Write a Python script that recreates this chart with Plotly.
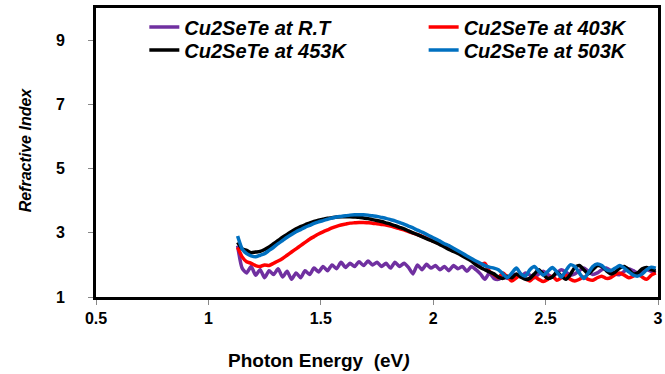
import plotly.graph_objects as go

energy = [1.13, 1.15, 1.17, 1.19, 1.21, 1.23, 1.25, 1.27, 1.29, 1.31, 1.33, 1.35, 1.37, 1.39, 1.41, 1.43,
          1.45, 1.47, 1.49, 1.51, 1.53, 1.55, 1.57, 1.59, 1.61, 1.63, 1.65, 1.67, 1.69, 1.71, 1.73, 1.75,
          1.77, 1.79, 1.81, 1.83, 1.85, 1.87, 1.89, 1.91, 1.93, 1.95, 1.97, 1.99, 2.01, 2.03, 2.05, 2.07,
          2.09, 2.11, 2.13, 2.15, 2.17, 2.19, 2.21, 2.23, 2.25, 2.27, 2.29, 2.31, 2.33, 2.35, 2.37, 2.39,
          2.41, 2.43, 2.45, 2.47, 2.49, 2.51, 2.53, 2.55, 2.57, 2.59, 2.61, 2.63, 2.65, 2.67, 2.69, 2.71,
          2.73, 2.75, 2.77, 2.79, 2.81, 2.83, 2.85, 2.87, 2.89, 2.91, 2.93, 2.95, 2.97, 2.99]

n_rt = [2.6, 1.9, 1.75, 1.95, 1.68, 1.85, 1.6, 1.82, 1.7, 1.88, 1.62, 1.8, 1.55, 1.75, 1.6, 1.82,
        1.7, 1.9, 1.78, 1.95, 1.82, 2.0, 1.88, 2.08, 1.92, 2.05, 1.95, 2.1, 1.98, 2.12, 2.0, 2.08,
        1.95, 2.05, 1.9, 2.08, 1.95, 2.05, 1.92, 1.72, 2.0, 1.85, 2.02, 1.9, 1.98, 1.85, 1.95, 1.82,
        1.98, 1.88, 1.95, 1.8, 1.95, 1.85, 1.72, 1.55, 1.75, 1.58, 1.55, 1.62, 1.58, 1.68, 1.7, 1.62,
        1.75, 1.68, 1.6, 1.72, 1.8, 1.7, 1.62, 1.75, 1.85, 1.78, 1.68, 1.72, 1.82, 1.9, 1.8, 1.7,
        1.75, 1.85, 1.9, 1.82, 1.72, 1.7, 1.8, 1.88, 1.82, 1.75, 1.78, 1.85, 1.8, 1.75]

n_403 = [2.55, 2.25, 2.1, 2.05, 1.98, 1.95, 2.0, 1.98, 2.05, 2.12, 2.2, 2.3, 2.4, 2.5, 2.6, 2.7,
         2.8, 2.88, 2.96, 3.03, 3.09, 3.15, 3.2, 3.24, 3.27, 3.3, 3.31, 3.32, 3.32, 3.31, 3.3, 3.28,
         3.26, 3.24, 3.21, 3.17, 3.13, 3.09, 3.04, 2.99, 2.94, 2.89, 2.83, 2.77, 2.71, 2.65, 2.58, 2.52,
         2.45, 2.38, 2.31, 2.23, 2.15, 2.07, 2.0, 2.05, 1.8, 1.7, 1.6, 1.75, 1.62, 1.5, 1.6, 1.7,
         1.58, 1.5, 1.62, 1.55, 1.48, 1.55, 1.65, 1.52, 1.6, 1.68, 1.55, 1.5, 1.55, 1.62, 1.55, 1.52,
         1.6, 1.65, 1.58, 1.6, 1.7, 1.75, 1.68, 1.6, 1.65, 1.72, 1.62, 1.55, 1.68, 1.75]

n_453 = [2.7, 2.5, 2.45, 2.38, 2.4, 2.42, 2.48, 2.56, 2.66, 2.76, 2.86, 2.95, 3.04, 3.12, 3.19, 3.25,
         3.3, 3.35, 3.39, 3.42, 3.45, 3.47, 3.49, 3.5, 3.5, 3.5, 3.49, 3.48, 3.46, 3.44, 3.41, 3.38,
         3.35, 3.31, 3.27, 3.22, 3.17, 3.12, 3.06, 3.0, 2.94, 2.88, 2.82, 2.76, 2.7, 2.63, 2.56, 2.48,
         2.42, 2.36, 2.28, 2.2, 2.12, 2.0, 1.92, 1.85, 1.78, 1.72, 1.62, 1.58, 1.65, 1.6, 1.72, 1.62,
         1.55, 1.58, 1.72, 1.85, 1.7, 1.58, 1.62, 1.78, 1.65, 1.55, 1.7, 1.92, 1.98, 1.85, 1.72, 1.85,
         1.98, 1.95, 1.82, 1.72, 1.78, 1.9, 1.95, 1.85, 1.72, 1.75, 1.88, 1.92, 1.85, 1.82]

n_503 = [2.9, 2.5, 2.35, 2.28, 2.25, 2.3, 2.35, 2.45, 2.55, 2.66, 2.76, 2.86, 2.95, 3.03, 3.1, 3.17,
         3.23, 3.29, 3.34, 3.38, 3.42, 3.46, 3.49, 3.51, 3.53, 3.55, 3.56, 3.56, 3.56, 3.55, 3.53, 3.51,
         3.48, 3.45, 3.41, 3.37, 3.32, 3.27, 3.21, 3.15, 3.08, 3.02, 2.95, 2.88, 2.81, 2.74, 2.66, 2.6,
         2.52, 2.44, 2.36, 2.28, 2.2, 2.12, 2.05, 1.98, 1.93, 1.9, 1.85, 1.72, 1.6, 1.75, 1.9, 1.72,
         1.65, 1.85, 1.95, 1.8, 1.68, 1.8, 1.92, 1.78, 1.62, 1.82, 2.0, 1.95, 1.75, 1.58, 1.75, 1.95,
         2.03, 1.98, 1.85, 1.82, 1.9, 1.98, 1.9, 1.78, 1.68, 1.65, 1.72, 1.85, 1.93, 1.9]

series_names = ["Cu2SeTe at R.T", "Cu2SeTe at 403K", "Cu2SeTe at 453K", "Cu2SeTe at 503K"]
series_values = [n_rt, n_403, n_453, n_503]
series_colors = ["#7030A0", "#FF0000", "#000000", "#0070C0"]

y_ticks = [1, 3, 5, 7, 9]
x_ticks = [0.5, 1, 1.5, 2, 2.5, 3]

font_family = "Liberation Sans, Arial, sans-serif"

# one legend box per entry, arranged in a 2x2 grid like the original
legend_ids = ["legend", "legend2", "legend3", "legend4"]
legend_pos = [(0.086, 0.934), (0.583, 0.934), (0.086, 0.855), (0.583, 0.855)]

fig = go.Figure()
for name, vals, col, lid in zip(series_names, series_values, series_colors, legend_ids):
    fig.add_trace(go.Scatter(x=energy, y=vals, mode="lines", name=name, legend=lid,
                             line=dict(color=col, width=3.5, shape="spline", smoothing=0.6)))

legend_font = dict(size=20, family=font_family, style="italic", weight="bold", color="black")
legend_layout = {}
for lid, (lx, ly) in zip(legend_ids, legend_pos):
    legend_layout[lid] = dict(x=lx, y=ly, xanchor="left", yanchor="middle",
                              font=legend_font, bgcolor="rgba(0,0,0,0)", itemwidth=30)

fig.update_layout(
    width=665, height=374,
    margin=dict(l=96, r=2, t=8, b=77),
    paper_bgcolor="white", plot_bgcolor="white",
    font=dict(family=font_family, color="black"),
    showlegend=True,
    xaxis=dict(range=[0.5, 3.0], tickvals=x_ticks, showgrid=False, zeroline=False,
               showline=True, linecolor="black", linewidth=3, mirror=True,
               ticks="outside", ticklen=5, tickcolor="#888", tickwidth=1,
               tickfont=dict(size=16, weight="bold", family=font_family)),
    yaxis=dict(range=[1, 10], tickvals=y_ticks, showgrid=False, zeroline=False,
               showline=True, linecolor="black", linewidth=3, mirror=True,
               ticks="outside", ticklen=5, tickcolor="#888", tickwidth=1,
               ticklabelstandoff=20,
               tickfont=dict(size=16, weight="bold", family=font_family)),
    annotations=[
        dict(text="Photon Energy  (eV<i>)</i>", xref="paper", yref="paper", x=0.396, y=-0.221,
             xanchor="center", yanchor="middle", showarrow=False,
             font=dict(size=19, weight="bold", family=font_family)),
        dict(text="<i>Refractive Index</i>", xref="paper", yref="paper", x=-0.125, y=0.51,
             xanchor="center", yanchor="middle", textangle=-90, showarrow=False,
             font=dict(size=16, weight="bold", family=font_family)),
    ],
    **legend_layout,
)

fig.write_html("out.html")
